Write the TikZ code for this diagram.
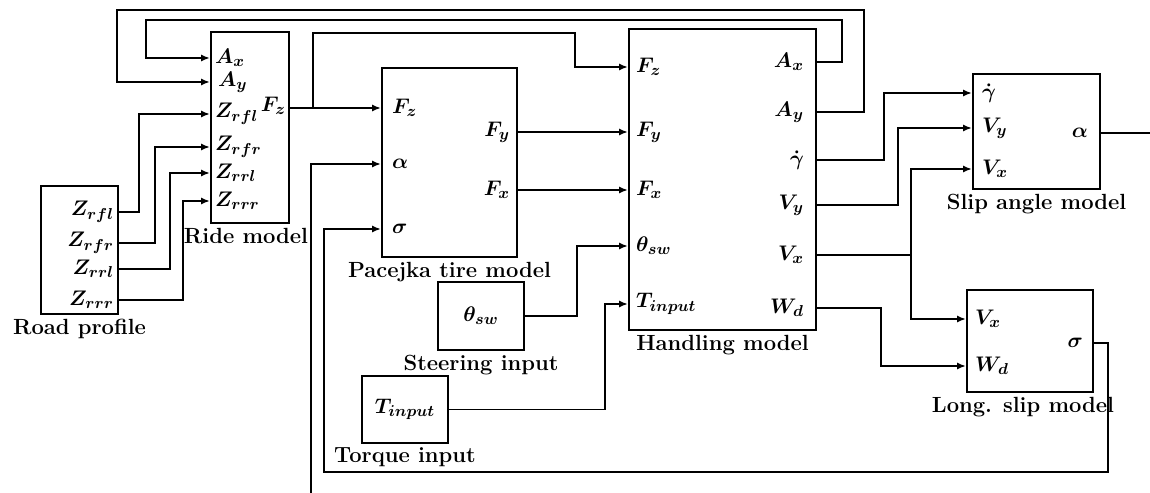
\documentclass[tikz,border=0pt]{standalone}
\usepackage{amsmath}
\usetikzlibrary{arrows.meta, positioning}
\tikzset{
  block/.style={rectangle, draw=black, line width=1.2pt, inner sep=0pt},
  port/.style={inner sep=1pt, font=\fontsize{12.5}{14}\selectfont\boldmath},
  blocklabel/.style={inner sep=1pt, font=\fontsize{12.5}{14}\selectfont\bfseries},
  arrow/.style={line width=1pt, -{Latex[length=5pt,width=4pt]}},
  wire/.style={line width=1pt}
}
\begin{document}
\begin{tikzpicture}[x=0.02cm, y=-0.02cm]
\useasboundingbox (0,0) rectangle (1150,493);
% Blocks
\node[block, minimum width=1.54cm, minimum height=2.56cm] (road) at (79.5,250) {};
\node[block, minimum width=1.56cm, minimum height=3.82cm] (ride) at (250,127.5) {};
\node[block, minimum width=2.7cm, minimum height=3.78cm] (pac) at (449.5,162.5) {};
\node[block, minimum width=3.74cm, minimum height=6.02cm] (hand) at (722.5,179.5) {};
\node[block, port, minimum width=1.72cm, minimum height=1.36cm] (steer) at (481,316) {$\theta_{sw}$};
\node[block, port, minimum width=1.72cm, minimum height=1.34cm] (torque) at (405,409.5) {$T_{input}$};
\node[block, minimum width=2.54cm, minimum height=2.3cm] (slipa) at (1036.5,131.5) {};
\node[block, minimum width=2.52cm, minimum height=2.04cm] (slipl) at (1030,341) {};

% Block names
\node[blocklabel, below=1pt of road] (roadcap) {Road profile};
\node[blocklabel, below=1pt of ride, xshift=-0.08cm] (ridecap) {Ride model};
\node[blocklabel, below=1pt of pac] (paccap) {Pacejka tire model};
\node[blocklabel, below=1pt of steer] (steercap) {Steering input};
\node[blocklabel, below=1pt of torque] (torquecap) {Torque input};
\node[blocklabel, below=1pt of hand] (handcap) {Handling model};
\node[blocklabel, below=1pt of slipa] (slipacap) {Slip angle model};
\node[blocklabel, below=1pt of slipl, xshift=-0.14cm] (sliplcap) {Long. slip model};

% Ports: road profile
\node[port, anchor=east] (rz1) at (116,212) {$Z_{rfl}$};
\node[port, anchor=east] (rz2) at (116,243) {$Z_{rfr}$};
\node[port, anchor=east] (rz3) at (116,269) {$Z_{rrl}$};
\node[port, anchor=east] (rz4) at (116,300) {$Z_{rrr}$};
% Ports: ride model
\node[port, anchor=west] (iax) at (213,58) {$A_x$};
\node[port, anchor=west] (iay) at (216,82) {$A_y$};
\node[port, anchor=west] (iz1) at (213,114) {$Z_{rfl}$};
\node[port, anchor=west] (iz2) at (213,147) {$Z_{rfr}$};
\node[port, anchor=west] (iz3) at (213,173) {$Z_{rrl}$};
\node[port, anchor=west] (iz4) at (213,201) {$Z_{rrr}$};
\node[port, anchor=east] (rfz) at (288,106) {$F_z$};
% Ports: Pacejka
\node[port, anchor=west] (pfz) at (390,108) {$F_z$};
\node[port, anchor=west] (pal) at (390,164) {$\alpha$};
\node[port, anchor=west] (psig) at (390,229) {$\sigma$};
\node[port, anchor=east] (pfy) at (512,132) {$F_y$};
\node[port, anchor=east] (pfx) at (512,190) {$F_x$};
% Ports: handling
\node[port, anchor=west] (hfz) at (634,67) {$F_z$};
\node[port, anchor=west] (hfy) at (634,132) {$F_y$};
\node[port, anchor=west] (hfx) at (634,190) {$F_x$};
\node[port, anchor=west] (hth) at (634,246) {$\theta_{sw}$};
\node[port, anchor=west] (hti) at (634,304) {$T_{input}$};
\node[port, anchor=east] (hax) at (806,62) {$A_x$};
\node[port, anchor=east] (hay) at (806,112) {$A_y$};
\node[port, anchor=east] (hgd) at (806,160) {$\dot{\gamma}$};
\node[port, anchor=east] (hvy) at (806,205) {$V_y$};
\node[port, anchor=east] (hvx) at (806,255) {$V_x$};
\node[port, anchor=east] (hwd) at (806,308) {$W_d$};
% Ports: slip angle
\node[port, anchor=west] (sgd) at (980,93) {$\dot{\gamma}$};
\node[port, anchor=west] (svy) at (980,128) {$V_y$};
\node[port, anchor=west] (svx) at (980,169) {$V_x$};
\node[port, anchor=east] (sal) at (1090,133) {$\alpha$};
% Ports: long. slip
\node[port, anchor=west] (lvx) at (973,319) {$V_x$};
\node[port, anchor=west] (lwd) at (973,366) {$W_d$};
\node[port, anchor=east] (lsig) at (1085,343) {$\sigma$};

% Free ends at the picture border
\coordinate (ain) at (311,493);
\coordinate (aout) at (1150,133);

% Road profile to ride model
\draw[arrow] (road.east |- rz1) -- ++(20,0) |- (ride.west |- iz1);
\draw[arrow] (road.east |- rz2) -- ++(36,0) |- (ride.west |- iz2);
\draw[arrow] (road.east |- rz3) -- ++(51,0) |- (ride.west |- iz3);
\draw[arrow] (road.east |- rz4) -- ++(64,0) |- (ride.west |- iz4);

% Fz to tire and handling
\draw[arrow] (ride.east |- pfz) -- (pac.west |- pfz);
\coordinate (fzj) at (313,108);
\draw[arrow] (fzj) |- (575,33) |- (hand.west |- hfz);

% Tire forces
\draw[arrow] (pac.east |- pfy) -- (hand.west |- pfy);
\draw[arrow] (pac.east |- pfx) -- (hand.west |- pfx);

% Driver inputs
\draw[arrow] (steer.east) -- ++(52,0) |- (hand.west |- hth);
\draw[arrow] (torque.east) -- ++(156,0) |- (hand.west |- hti);

% Feedback of accelerations
\draw[arrow] (hand.east |- hax) -| (842,20) -| (146,58) -- (ride.west |- iax);
\draw[arrow] (hand.east |- hay) -| (864,10) -| (117,82) -- (ride.west |- iay);

% Handling to slip models
\draw[arrow] (hand.east |- hgd) -- ++(67,0) |- (slipa.west |- sgd);
\draw[arrow] (hand.east |- hvy) -- ++(81,0) |- (slipa.west |- svy);
\draw[arrow] (hand.east |- hvx) -- ++(94,0) coordinate (vxj) |- (slipa.west |- svx);
\draw[arrow] (vxj) |- (slipl.west |- lvx);
\draw[arrow] (hand.east |- hwd) -- ++(64,0) |- (slipl.west |- lwd);

% Slip feedback to tire model
\draw[wire] (slipa.east |- sal) -- (aout);
\draw[arrow] (ain) |- (pac.west |- pal);
\draw[arrow] (slipl.east |- lsig) -| (1108,472) -| (324,229) -- (pac.west |- psig);
\end{tikzpicture}
\end{document}
